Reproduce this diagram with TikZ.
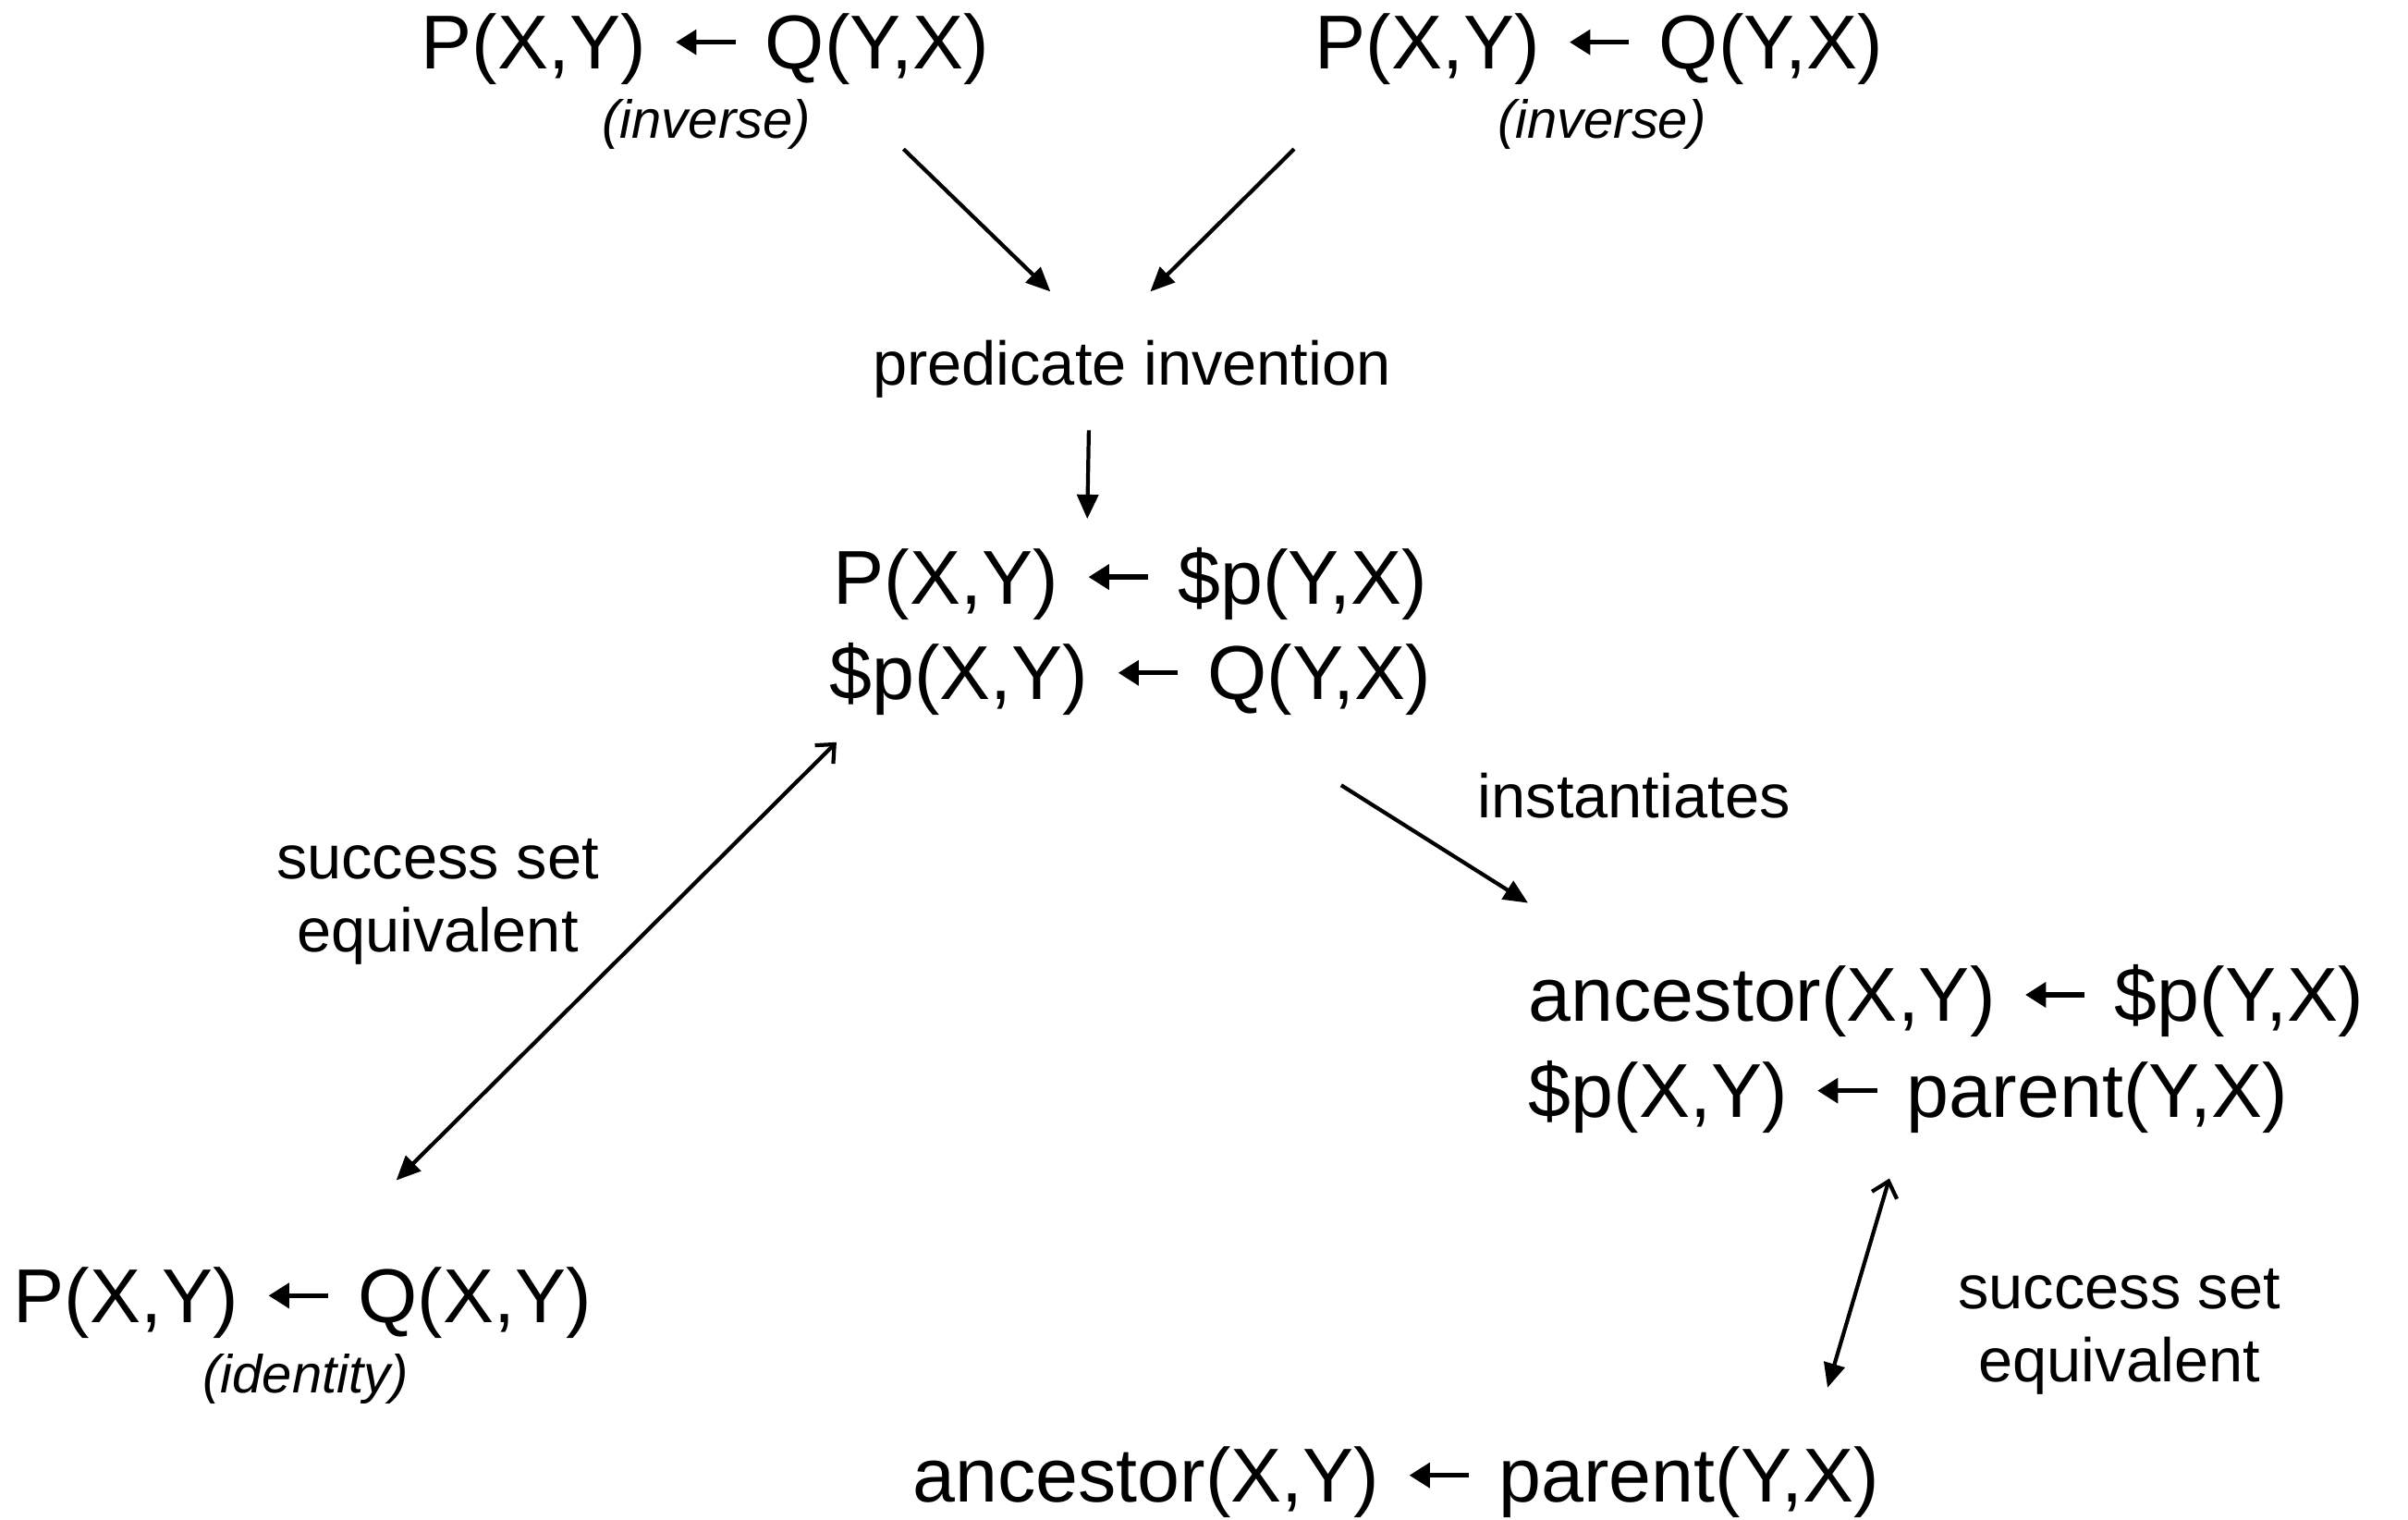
\documentclass[tikz,border=0pt]{standalone}
\usepackage{fontspec}
\setmainfont{Liberation Sans}
\usetikzlibrary{arrows.meta}

% heavy "if" arrow between head and body of a clause
\newcommand{\lar}{\hspace{0.36em}\tikz[baseline=0pt]\draw[line width=0.065em,
  -{Triangle[length=0.27em,width=0.32em]}] (0.78em,0.35em) -- (0,0.35em);\hspace{0.36em}}

\tikzset{
  clause/.style={inner sep=0pt, font=\fontsize{23.5}{29.5}\selectfont},
  tag/.style={inner sep=0pt, font=\fontsize{16.5}{20}\selectfont\itshape},
  lab/.style={inner sep=0pt, align=center, font=\fontsize{19}{22.5}\selectfont},
  arr/.style={-{Triangle[length=7.5pt,width=6.5pt]}, line width=1.2pt},
  equiv/.style={{Straight Barb[length=4.5pt,width=8pt]}-{Triangle[length=7.5pt,width=6.5pt]}, line width=1.2pt},
}

\begin{document}
\begin{tikzpicture}[x=0.016614cm, y=-0.016614cm]
  \useasboundingbox (0,0) rectangle (1568,989);

  % two inverse rules on top
  \node[clause] (tl)   at (459,32)  {P(X,Y)\lar Q(Y,X)};
  \node[tag]    (inv1) at (460,81)  {(inverse)};
  \node[clause] (tr)   at (1041,32) {P(X,Y)\lar Q(Y,X)};
  \node[tag]    (inv2) at (1043,81) {(inverse)};

  \node[lab] (pi) at (737,240) {predicate invention};

  \draw[arr] ([shift={(60,16)}]inv1.east) -- ([shift={(-53,-31)}]pi.north);
  \draw[arr] ([shift={(-132,16)}]inv2.west) -- ([shift={(12,-31)}]pi.north);

  % invented predicate
  \node[clause, align=center] (cen) at (736,411)
       {P(X,Y)\lar\$p(Y,X)\\\$p(X,Y)\lar Q(Y,X)};
  \draw[arr] ([shift={(-28,21)}]pi.south) -- ([shift={(-28,-18)}]cen.north);

  % instantiation
  \node[lab] (inst) at (1064,518) {instantiates};
  \node[clause, align=left, anchor=west] (anc) at (995,683)
       {ancestor(X,Y)\lar\$p(Y,X)\\\$p(X,Y)\lar parent(Y,X)};
  \draw[arr] ([shift={(-59,45)}]cen.south east) -- ([shift={(0,-40)}]anc.north west);

  % identity, left
  \node[clause] (bl)  at (197,848) {P(X,Y)\lar Q(X,Y)};
  \node[tag]    (idt) at (199,898) {(identity)};
  \node[lab]    (ss1) at (285,587) {success set\\equivalent};
  \draw[equiv] ([shift={(5,17)}]cen.south west) -- ([shift={(61,-56)}]bl.north);

  % concrete rule, bottom
  \node[clause] (bot) at (909,965) {ancestor(X,Y)\lar parent(Y,X)};
  \node[lab]    (ss2) at (1380,867) {success set\\equivalent};
  \draw[equiv] ([shift={(-37,29)}]anc.south) -- ([shift={(281,-38)}]bot.north);
\end{tikzpicture}
\end{document}
